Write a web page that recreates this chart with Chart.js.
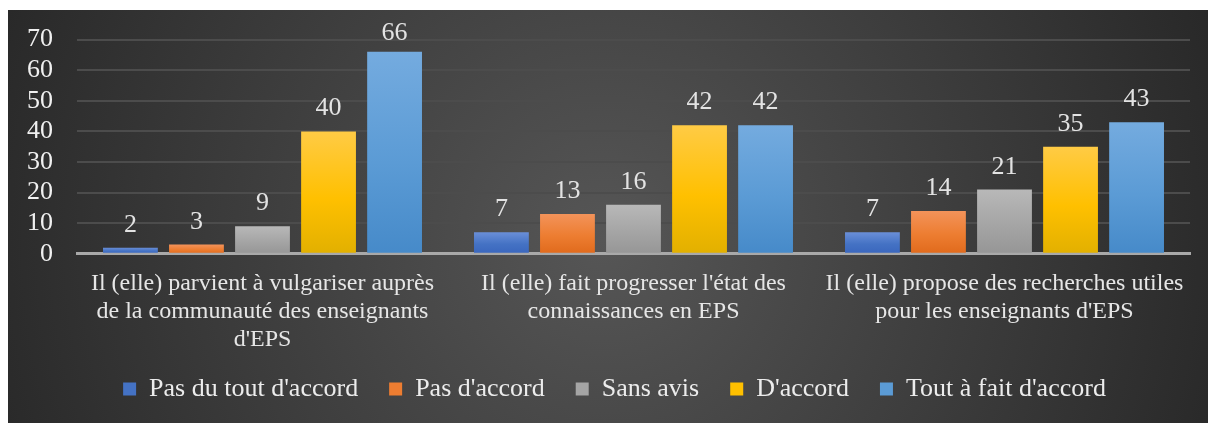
<!DOCTYPE html>
<html>
<head>
<meta charset="utf-8">
<script src="https://cdn.jsdelivr.net/npm/chart.js@4.4.0/dist/chart.umd.min.js"></script>
<style>
html,body{margin:0;padding:0;background:#fff;}
canvas{display:block;}
</style>
</head>
<body>
<canvas id="c" width="1208" height="423"></canvas>
<script>
const categories = [
  ["Il (elle) parvient à vulgariser auprès", "de la communauté des enseignants", "d'EPS"],
  ["Il (elle) fait progresser l'état des", "connaissances en EPS"],
  ["Il (elle) propose des recherches utiles", "pour les enseignants d'EPS"]
];
const seriesNames = ["Pas du tout d'accord", "Pas d'accord", "Sans avis", "D'accord", "Tout à fait d'accord"];
const pasDuTout = [2, 7, 7];
const pasDaccord = [3, 13, 14];
const sansAvis = [9, 16, 21];
const dAccord = [40, 42, 35];
const toutAFait = [66, 42, 43];
const yTicks = [0, 10, 20, 30, 40, 50, 60, 70];

const baseColors = ['#4472C4', '#ED7D31', '#A5A5A5', '#FFC000', '#5B9BD5'];
const topColors = ['#6a8fd8', '#f3935a', '#b8b8b8', '#ffcb45', '#74abdf'];
const botColors = ['#3a66bd', '#e06a1c', '#969696', '#e2b000', '#468ac9'];

function barGradient(i) {
  return function(ctx) {
    const chart = ctx.chart;
    const ys = chart.scales.y;
    if (!ys || ctx.type !== 'data') return baseColors[i];
    const v = ctx.raw;
    const yTop = ys.getPixelForValue(v);
    const yBot = ys.getPixelForValue(0);
    if (!isFinite(yTop) || !isFinite(yBot) || yBot - yTop < 1) return baseColors[i];
    const g = chart.ctx.createLinearGradient(0, yTop, 0, yBot);
    g.addColorStop(0, topColors[i]);
    g.addColorStop(0.55, baseColors[i]);
    g.addColorStop(1, botColors[i]);
    return g;
  };
}

const allSeries = [pasDuTout, pasDaccord, sansAvis, dAccord, toutAFait];
const datasets = allSeries.map((d, i) => ({
  label: seriesNames[i],
  data: d,
  backgroundColor: barGradient(i),
  borderWidth: 0,
  categoryPercentage: 0.89,
  barPercentage: 0.83
}));

const bgPlugin = {
  id: 'bg',
  beforeDraw(chart) {
    const c = chart.ctx;
    c.save();
    c.fillStyle = '#ffffff';
    c.fillRect(0, 0, chart.width, chart.height);
    const g = c.createRadialGradient(604, 240, 0, 604, 240, 680);
    g.addColorStop(0, '#565656');
    g.addColorStop(1, '#262626');
    c.fillStyle = g;
    c.fillRect(8, 10, chart.width - 8, chart.height - 10);
    c.restore();
  }
};

const valueLabels = {
  id: 'valueLabels',
  afterDatasetsDraw(chart) {
    const c = chart.ctx;
    c.save();
    c.font = '26px "Liberation Serif", "Times New Roman", serif';
    c.fillStyle = '#e3e3e3';
    c.textAlign = 'center';
    c.textBaseline = 'alphabetic';
    chart.data.datasets.forEach((ds, di) => {
      const meta = chart.getDatasetMeta(di);
      meta.data.forEach((bar, j) => {
        const yb = Math.max(bar.y - 16, chart.chartArea.top);
        c.fillText(String(ds.data[j]), bar.x, yb);
      });
    });
    c.restore();
  }
};

const legendAdjust = {
  id: 'legendAdjust',
  beforeLayout(chart) {
    const lg = chart.legend;
    if (lg && !lg._patched) {
      lg._patched = true;
      const origFit = lg.fit.bind(lg);
      lg.fit = function() { origFit(); this.height -= 14; };
    }
  },
  afterLayout(chart) {
    const lg = chart.legend;
    if (lg) {
      lg.left += 18; lg.right += 18;
      lg.top -= 25; lg.bottom -= 25;
    }
  }
};

new Chart(document.getElementById('c'), {
  type: 'bar',
  data: { labels: categories, datasets: datasets },
  options: {
    responsive: false,
    devicePixelRatio: 1,
    animation: false,
    layout: { padding: { left: 3, right: 18, top: 24, bottom: 0 } },
    plugins: {
      legend: {
        position: 'bottom',
        labels: {
          color: '#ececec',
          font: { family: '"Liberation Serif", "Times New Roman", serif', size: 26 },
          boxWidth: 13,
          boxHeight: 13,
          padding: 31,
          generateLabels(chart) {
            return chart.data.datasets.map((ds, i) => ({
              text: ds.label,
              fillStyle: baseColors[i],
              strokeStyle: baseColors[i],
              lineWidth: 0,
              fontColor: '#ececec',
              hidden: false,
              datasetIndex: i
            }));
          }
        }
      },
      tooltip: { enabled: false }
    },
    scales: {
      x: {
        grid: { display: false, drawTicks: false },
        border: { display: true, color: '#a9a9a9', width: 3 },
        ticks: {
          color: '#e6e6e6',
          font: { family: '"Liberation Serif", "Times New Roman", serif', size: 24, lineHeight: 1.17 },
          padding: 16,
          maxRotation: 0,
          autoSkip: false
        }
      },
      y: {
        min: 0,
        max: 70,
        afterBuildTicks(scale) { scale.ticks = yTicks.map(v => ({ value: v })); },
        grid: { color: '#4c4c4c', lineWidth: 2, drawTicks: false },
        border: { display: false },
        ticks: {
          color: '#f0f0f0',
          font: { family: '"Liberation Serif", "Times New Roman", serif', size: 26 },
          padding: 24,
          autoSkip: false
        }
      }
    }
  },
  plugins: [bgPlugin, valueLabels, legendAdjust]
});
</script>
</body>
</html>
